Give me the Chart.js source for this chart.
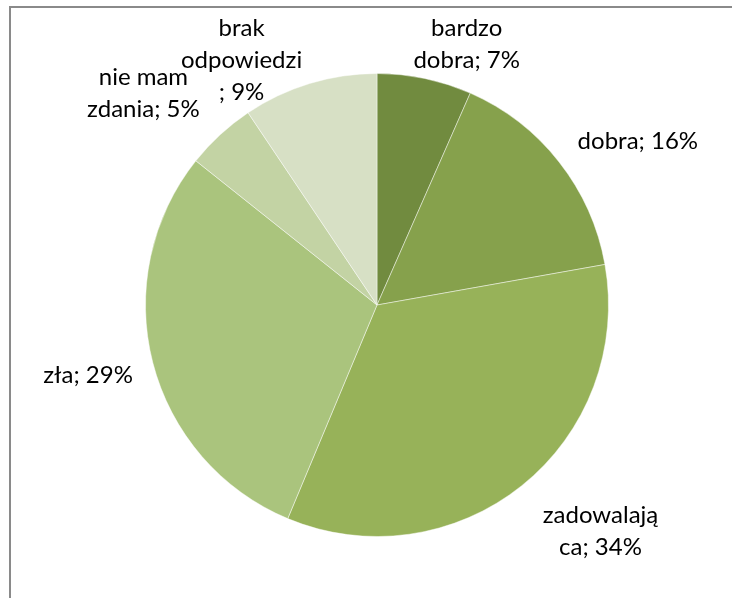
<!DOCTYPE html>
<html>
<head>
<meta charset="utf-8">
<script src="https://cdn.jsdelivr.net/npm/chart.js@4.4.1/dist/chart.umd.min.js"></script>
<style>
  html, body { margin: 0; padding: 0; background: #fff; }
  #wrap { width: 732px; height: 598px; position: relative; }
</style>
</head>
<body>
<div id="wrap"><canvas id="c" width="732" height="598"></canvas></div>
<script>
// ---- data ----
const categories = ["bardzo dobra", "dobra", "zadowalająca", "zła", "nie mam zdania", "brak odpowiedzi"];
const values = [6.6, 15.6, 34.1, 29.4, 4.9, 9.4];
const labelLines = [
  ["bardzo", "dobra; 7%"],
  ["dobra; 16%"],
  ["zadowalają", "ca; 34%"],
  ["zła; 29%"],
  ["nie mam", "zdania; 5%"],
  ["brak", "odpowiedzi", "; 9%"]
];

// ---- styles ----
const colors = ["#718B3F", "#86A14C", "#97B259", "#AAC47D", "#C3D3A4", "#D7E0C5"];
// label placement: angle (deg, clockwise from top) and radius factor relative to the pie radius
const labelLayout = [
  { a: 19.0, k: 1.19 },
  { a: 57.9, k: 1.33 },
  { a: 135.4, k: 1.375 },
  { a: 256.4, k: 1.284 },
  { a: 312.2, k: 1.362 },
  { a: 331.0, k: 1.207 }
];
const FONT = "24px Lato, 'Open Sans', sans-serif";
const LINE_H = 32;

const framePlugin = {
  id: 'frame',
  beforeDraw(chart) {
    const ctx = chart.ctx;
    ctx.save();
    ctx.fillStyle = '#fff';
    ctx.fillRect(0, 0, chart.width, chart.height);
    ctx.fillStyle = '#8a8a8a';
    ctx.fillRect(9, 6, chart.width - 9, 2);
    ctx.fillRect(9, 6, 2, chart.height - 6);
    ctx.restore();
  }
};

const labelPlugin = {
  id: 'pieLabels',
  afterDatasetsDraw(chart) {
    const ctx = chart.ctx;
    const meta = chart.getDatasetMeta(0);
    ctx.save();
    ctx.font = FONT;
    ctx.fillStyle = '#000';
    ctx.textAlign = 'center';
    ctx.textBaseline = 'middle';
    meta.data.forEach((arc, i) => {
      const p = arc.getProps(['x', 'y', 'outerRadius'], true);
      const L = labelLayout[i];
      const ang = L.a * Math.PI / 180;
      const cx = p.x + Math.sin(ang) * p.outerRadius * L.k;
      const cy = p.y - Math.cos(ang) * p.outerRadius * L.k;
      const lines = labelLines[i];
      const top = cy - (lines.length - 1) * LINE_H / 2;
      lines.forEach((t, j) => ctx.fillText(t, cx, top + j * LINE_H));
    });
    ctx.restore();
  }
};

new Chart(document.getElementById('c'), {
  type: 'pie',
  data: {
    labels: categories,
    datasets: [{
      data: values,
      backgroundColor: colors,
      borderColor: 'rgba(255,255,255,0.45)',
      borderWidth: 1
    }]
  },
  options: {
    responsive: false,
    animation: false,
    layout: { padding: { left: 145, right: 123, top: 73, bottom: 61 } },
    plugins: {
      legend: { display: false },
      tooltip: { enabled: false }
    }
  },
  plugins: [framePlugin, labelPlugin]
});
</script>
</body>
</html>
